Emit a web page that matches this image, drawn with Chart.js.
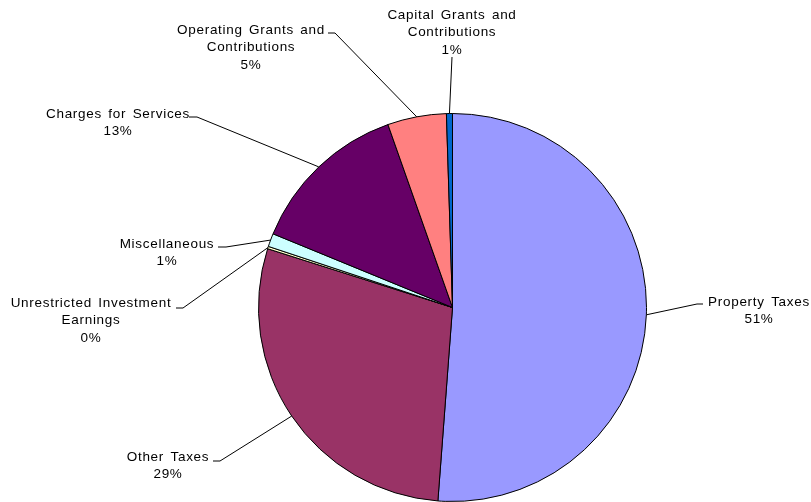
<!DOCTYPE html>
<html>
<head>
<meta charset="utf-8">
<script src="https://cdn.jsdelivr.net/npm/chart.js@4"></script>
<style>
  html, body { margin: 0; padding: 0; background: #fff; }
  #wrap { width: 811px; height: 502px; }
</style>
</head>
<body>
<div id="wrap"><canvas id="js-chart-revenues" width="811" height="502"></canvas></div>
<script>
// Revenue sources, clockwise from 12 o'clock
const categories = [
    "Property Taxes",
    "Other Taxes",
    "Unrestricted Investment Earnings",
    "Miscellaneous",
    "Charges for Services",
    "Operating Grants and Contributions",
    "Capital Grants and Contributions"
];
const shares = [51.2, 28.7, 0.2, 1.1, 13.4, 4.9, 0.5];
const percentLabels = ["51%", "29%", "0%", "1%", "13%", "5%", "1%"];
const labelLines = [
    ["Property Taxes"],
    ["Other Taxes"],
    ["Unrestricted Investment", "Earnings"],
    ["Miscellaneous"],
    ["Charges for Services"],
    ["Operating Grants and", "Contributions"],
    ["Capital Grants and", "Contributions"]
];
const sliceColors = ["#9999FF", "#993366", "#FFFFCC", "#CCFFFF", "#660066", "#FF8080", "#0066CC"];

// where each label sits: text centre, first line y, and where its leader starts
const labelLayout = [
    { x: 759, y: 302, lx: 703, ly: 304, tick: -6 },
    { x: 168, y: 457, lx: 213, ly: 461, tick: 7 },
    { x: 91,  y: 303, lx: 176, ly: 308, tick: 7 },
    { x: 167, y: 244, lx: 218, ly: 247, tick: 8 },
    { x: 118, y: 114, lx: 189, ly: 117, tick: 8 },
    { x: 251, y: 30,  lx: 328, ly: 33,  tick: 7 },
    { x: 452, y: 15,  lx: 452, ly: 57,  tick: 0 }
];

const leaderLabels = {
    id: "leaderLabels",
    afterDatasetsDraw(chart) {
        const ctx = chart.ctx;
        const meta = chart.getDatasetMeta(0);
        ctx.save();
        ctx.font = "13.5px 'Liberation Sans', Arial, sans-serif";
        ctx.letterSpacing = "0.7px";
        ctx.wordSpacing = "2px";
        ctx.fillStyle = "#000";
        ctx.strokeStyle = "#000";
        ctx.lineWidth = 1;
        ctx.textAlign = "center";
        ctx.textBaseline = "middle";
        meta.data.forEach((arc, i) => {
            const p = arc.getProps(["x", "y", "startAngle", "endAngle", "outerRadius"], true);
            const mid = (p.startAngle + p.endAngle) / 2;
            const ex = p.x + Math.cos(mid) * p.outerRadius;
            const ey = p.y + Math.sin(mid) * p.outerRadius;
            const lay = labelLayout[i];
            ctx.beginPath();
            ctx.moveTo(lay.lx, lay.ly);
            ctx.lineTo(lay.lx + lay.tick, lay.ly);
            ctx.lineTo(ex, ey);
            ctx.stroke();
            const lines = labelLines[i].concat([percentLabels[i]]);
            lines.forEach((t, k) => ctx.fillText(t, lay.x, lay.y + k * 17.5));
        });
        ctx.restore();
    }
};

new Chart(document.getElementById("js-chart-revenues"), {
    type: "pie",
    data: {
        labels: categories,
        datasets: [{
            data: shares,
            backgroundColor: sliceColors,
            borderColor: "#000",
            borderWidth: 1
        }]
    },
    options: {
        responsive: false,
        animation: false,
        layout: { padding: { left: 257, right: 163, top: 113, bottom: 0 } },
        plugins: {
            legend: { display: false },
            tooltip: { enabled: false }
        }
    },
    plugins: [leaderLabels]
});
</script>
</body>
</html>
